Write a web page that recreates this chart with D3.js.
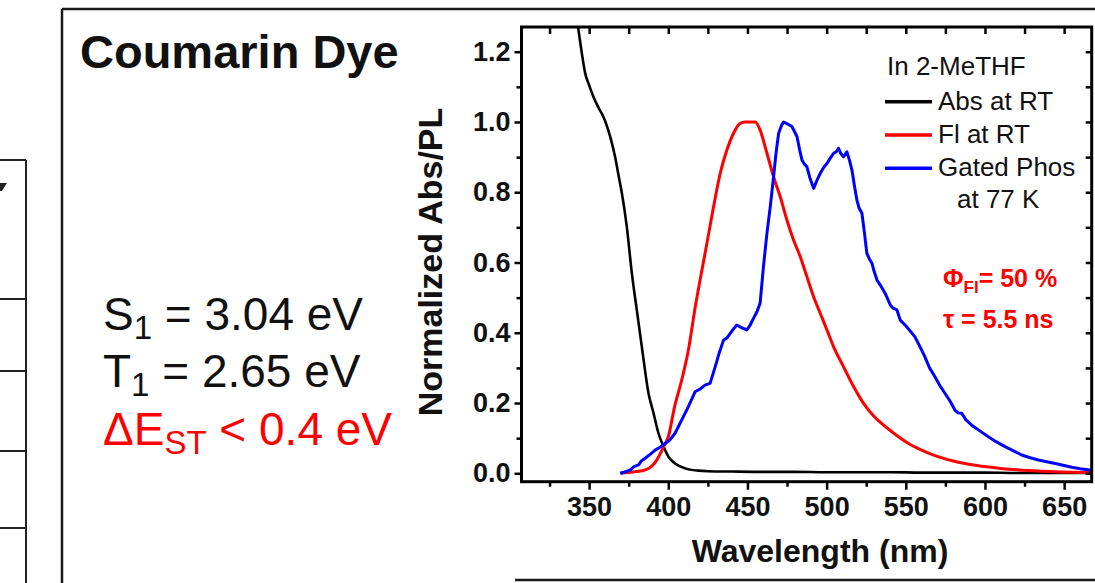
<!DOCTYPE html>
<html>
<head>
<meta charset="utf-8">
<script src="https://cdn.jsdelivr.net/npm/d3@7"></script>
<style>
  html, body { margin: 0; padding: 0; background: #fff; }
  svg { display: block; }
  text { font-family: "Liberation Sans", Arial, sans-serif; }
</style>
</head>
<body>
<svg id="fig" width="1095" height="583"></svg>
<script>
// Absorption at room temperature (normalized)
const absWl  = [343, 345.4, 347.5, 350, 352.7, 356, 359, 363.3, 366.4, 368.5, 370.7, 373.8, 377, 380.1, 383.3, 387.5, 390.7, 393.8, 397, 400.1, 404.3, 410.6, 419, 425, 440, 460, 480, 500, 520, 540, 560, 580, 600, 620, 640, 660, 667];
const absVal = [1.271, 1.196, 1.139, 1.105, 1.072, 1.04, 1.015, 0.958, 0.901, 0.85, 0.797, 0.702, 0.569, 0.465, 0.360, 0.228, 0.171, 0.114, 0.076, 0.047, 0.028, 0.014, 0.0075, 0.006, 0.005, 0.004, 0.004, 0.003, 0.003, 0.003, 0.002, 0.002, 0.002, 0.001, 0.001, 0.001, 0.001];

// Fluorescence at room temperature (normalized)
const flWl  = [370, 375, 380, 385, 388, 391, 394, 397, 400, 404, 408.5, 412.7, 416.9, 420.5, 424.4, 428.6, 432.8, 437, 441.2, 445.4, 448.6, 454.9, 458, 462.3, 466.5, 470.7, 474.9, 479.1, 483.3, 487.5, 491.7, 496, 500.2, 504.4, 510.7, 517, 523.3, 529.7, 536, 543, 551, 560, 568, 580, 595, 610, 627, 648, 667];
const flVal = [0.0, 0.002, 0.005, 0.009, 0.015, 0.027, 0.048, 0.075, 0.104, 0.19, 0.266, 0.351, 0.47, 0.56, 0.655, 0.759, 0.854, 0.920, 0.968, 0.996, 1.0, 1.0, 0.977, 0.911, 0.844, 0.787, 0.721, 0.664, 0.617, 0.560, 0.503, 0.455, 0.408, 0.360, 0.303, 0.247, 0.199, 0.163, 0.137, 0.112, 0.087, 0.066, 0.051, 0.035, 0.022, 0.014, 0.008, 0.004, 0.002];

// Gated phosphorescence at 77 K (normalized)
const phWl  = [369.6, 372, 375.9, 378, 381.2, 383, 385.4, 388, 391.7, 395, 398, 401, 404.3, 408.5, 412.7, 416.9, 420.1, 423.2, 426.4, 429.6, 432, 434.9, 437, 439.1, 441, 443.3, 446, 449.6, 451.5, 453.8, 456, 458, 460.1, 462.3, 464.4, 466.5, 468, 469.7, 471.5, 472.8, 475, 478.1, 480, 481.3, 483, 484.4, 486, 487.5, 489.5, 491.8, 494, 496, 498, 500.2, 502, 504.4, 506, 507.5, 509, 510.7, 512.8, 514.5, 516, 517.5, 519.1, 520.5, 522.3, 524, 525.4, 527, 528.6, 530, 531.8, 534, 537, 540.2, 542, 544.4, 546.5, 550, 555.7, 559, 562, 565, 568.4, 571.5, 574.7, 578, 581, 583, 585.3, 588, 591.6, 597, 602.1, 607, 612.7, 618, 623.2, 628, 633.7, 639, 644.3, 650, 654.8, 660, 667.4];
const phVal = [0.0, 0.003, 0.009, 0.018, 0.024, 0.035, 0.043, 0.052, 0.066, 0.075, 0.085, 0.095, 0.114, 0.152, 0.190, 0.232, 0.240, 0.251, 0.256, 0.303, 0.34, 0.379, 0.385, 0.398, 0.41, 0.422, 0.415, 0.408, 0.42, 0.441, 0.46, 0.484, 0.588, 0.683, 0.759, 0.844, 0.91, 0.968, 0.99, 1.0, 0.995, 0.987, 0.97, 0.958, 0.92, 0.892, 0.88, 0.873, 0.84, 0.811, 0.835, 0.854, 0.87, 0.882, 0.895, 0.911, 0.915, 0.925, 0.91, 0.901, 0.915, 0.89, 0.863, 0.82, 0.778, 0.755, 0.740, 0.68, 0.626, 0.61, 0.598, 0.575, 0.550, 0.535, 0.512, 0.479, 0.47, 0.465, 0.436, 0.42, 0.389, 0.36, 0.332, 0.30, 0.275, 0.25, 0.228, 0.205, 0.180, 0.172, 0.171, 0.152, 0.137, 0.12, 0.104, 0.09, 0.076, 0.064, 0.052, 0.045, 0.038, 0.033, 0.028, 0.022, 0.017, 0.013, 0.009];

const xMajor = [350, 400, 450, 500, 550, 600, 650];
const xMinor = [325, 375, 425, 475, 525, 575, 625];
const yMajor = [0.0, 0.2, 0.4, 0.6, 0.8, 1.0, 1.2];
const yMinor = [0.1, 0.3, 0.5, 0.7, 0.9, 1.1];

const legendItems = [
  { label: "Abs at RT", color: "#000000" },
  { label: "Fl at RT", color: "#ff0000" },
  { label: "Gated Phos", color: "#0000ff" }
];

const svg = d3.select("#fig");

// ---- surrounding slide frame ----
const frame = svg.append("g").attr("stroke", "#1a1a1a").attr("stroke-width", 2.5).attr("fill", "none");
frame.append("line").attr("x1", 62).attr("y1", 9).attr("x2", 1095).attr("y2", 9);
frame.append("line").attr("x1", 62).attr("y1", 9).attr("x2", 62).attr("y2", 583);
frame.append("line").attr("x1", 515).attr("y1", 580).attr("x2", 1095).attr("y2", 580);

// edge of the neighbouring table on the far left
const tbl = svg.append("g").attr("stroke", "#222").attr("stroke-width", 2).attr("fill", "none");
tbl.append("line").attr("x1", 26).attr("y1", 160).attr("x2", 26).attr("y2", 583);
[160, 299, 371, 451, 528].forEach(y => {
  tbl.append("line").attr("x1", 0).attr("y1", y).attr("x2", 26).attr("y2", y);
});
svg.append("path").attr("d", "M0,183 L7,183 L2,191 L0,191 Z").attr("fill", "#222");

// ---- title and energy levels ----
svg.append("text").attr("x", 80).attr("y", 68).attr("font-size", 47).attr("font-weight", "bold")
  .attr("fill", "#111").text("Coumarin Dye");

function levelText(y, main, sub, rest, color) {
  const t = svg.append("text").attr("x", 103).attr("y", y).attr("font-size", 46).attr("fill", color);
  t.append("tspan").text(main);
  t.append("tspan").attr("font-size", 33).attr("dy", 9).text(sub);
  t.append("tspan").attr("dy", -9).text(rest);
}
levelText(330, "S", "1", " = 3.04 eV", "#111");
levelText(387, "T", "1", " = 2.65 eV", "#111");
levelText(445, "\u0394E", "ST", " < 0.4 eV", "#ff0000");

// ---- plot ----
const L = 521.5, R = 1091.7, T = 27, B = 481.7;
const x = d3.scaleLinear().domain([307.3, 667.4]).range([L, R]);
const y = d3.scaleLinear().domain([-0.0239, 1.2703]).range([B, T]);

const plot = svg.append("g");
const clipId = "plotClip";
svg.append("defs").append("clipPath").attr("id", clipId)
  .append("rect").attr("x", L).attr("y", T).attr("width", R - L).attr("height", B - T);

const series = [
  { wl: absWl, v: absVal, color: "#000000", w: 2.6, curve: d3.curveMonotoneX },
  { wl: flWl, v: flVal, color: "#ff0000", w: 3, curve: d3.curveMonotoneX },
  { wl: phWl, v: phVal, color: "#0000ff", w: 3, curve: d3.curveLinear }
];
const curves = plot.append("g").attr("clip-path", `url(#${clipId})`);
series.forEach(s => {
  const line = d3.line().x(d => x(d[0])).y(d => y(d[1])).curve(s.curve);
  curves.append("path")
    .datum(s.wl.map((w, i) => [w, s.v[i]]))
    .attr("fill", "none").attr("stroke", s.color).attr("stroke-width", s.w)
    .attr("stroke-linejoin", "round")
    .attr("d", line);
});

// axes
function styleAxis(g) {
  g.select(".domain").remove();
  g.selectAll(".tick line").attr("stroke", "#000").attr("stroke-width", 2.5);
  g.selectAll(".tick text").attr("font-size", 27).attr("font-weight", "bold")
    .attr("font-family", "'Liberation Sans', Arial, sans-serif").attr("fill", "#111");
}
const fmt = d3.format(".1f");
plot.append("g").attr("transform", `translate(${L},0)`)
  .call(d3.axisLeft(y).tickValues(yMajor).tickFormat(fmt).tickSize(7).tickPadding(4)).call(styleAxis);
plot.append("g").attr("transform", `translate(${L},0)`)
  .call(d3.axisLeft(y).tickValues(yMinor).tickFormat("").tickSize(5)).call(styleAxis);
plot.append("g").attr("transform", `translate(0,${B})`)
  .call(d3.axisBottom(x).tickValues(xMajor).tickFormat(d3.format("d")).tickSize(8).tickPadding(7)).call(styleAxis);
plot.append("g").attr("transform", `translate(0,${B})`)
  .call(d3.axisBottom(x).tickValues(xMinor).tickFormat("").tickSize(5)).call(styleAxis);
plot.append("g").attr("transform", `translate(0,${T})`)
  .call(d3.axisTop(x).tickValues(xMajor.concat(xMinor)).tickFormat("").tickSize(-7)).call(styleAxis);
plot.append("g").attr("transform", `translate(${R},0)`)
  .call(d3.axisRight(y).tickValues(yMajor.concat(yMinor)).tickFormat("").tickSize(-6)).call(styleAxis);

plot.append("rect").attr("x", L).attr("y", T).attr("width", R - L).attr("height", B - T)
  .attr("fill", "none").attr("stroke", "#000").attr("stroke-width", 3);

// axis titles
svg.append("text").attr("x", 820).attr("y", 562).attr("text-anchor", "middle")
  .attr("font-size", 32).attr("font-weight", "bold").attr("fill", "#111").text("Wavelength (nm)");
svg.append("text").attr("transform", "translate(442,262) rotate(-90)").attr("text-anchor", "middle")
  .attr("font-size", 34).attr("font-weight", "bold").attr("fill", "#111").text("Normalized Abs/PL");

// legend
const lg = svg.append("g");
lg.append("text").attr("x", 887).attr("y", 75).attr("font-size", 26).attr("fill", "#111").text("In 2-MeTHF");
legendItems.forEach((d, i) => {
  const cy = 101.7 + i * 33.3;
  lg.append("line").attr("x1", 885).attr("x2", 932).attr("y1", cy).attr("y2", cy)
    .attr("stroke", d.color).attr("stroke-width", 3.5);
  lg.append("text").attr("x", 938).attr("y", cy + 8).attr("font-size", 26).attr("fill", "#111").text(d.label);
});
lg.append("text").attr("x", 957).attr("y", 208).attr("font-size", 26).attr("fill", "#111").text("at 77 K");

// photophysics annotations
const ann = svg.append("g").attr("fill", "#ff0000").attr("font-weight", "bold");
const phi = ann.append("text").attr("x", 943).attr("y", 287).attr("font-size", 25);
phi.append("tspan").text("\u03A6");
phi.append("tspan").attr("font-size", 17).attr("dy", 6).text("Fl");
phi.append("tspan").attr("dy", -6).text("= 50 %");
ann.append("text").attr("x", 943).attr("y", 328).attr("font-size", 25).text("\u03C4 = 5.5 ns");
</script>
</body>
</html>
